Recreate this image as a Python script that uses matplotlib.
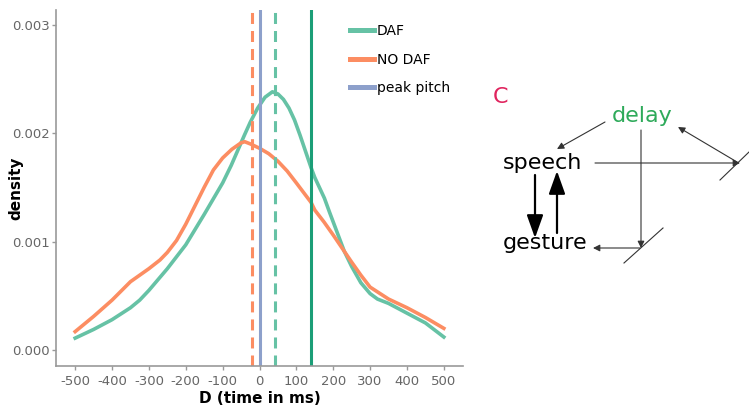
import numpy as np
import matplotlib
matplotlib.use("Agg")
import matplotlib.pyplot as plt
from matplotlib.patches import FancyArrowPatch

plt.rcParams['axes.unicode_minus'] = False
plt.rcParams['font.family'] = ['DejaVu Sans']

# density curves
daf_x = [-500, -450, -400, -350, -325, -300, -250, -200, -150, -100, -77, -50, -41, -25,
         -5, 15, 35, 50, 65, 80, 95, 110, 125, 140, 150, 176, 190, 200, 230, 250, 275,
         300, 320, 350, 400, 450, 500]
daf_y = [0.00011, 0.00019, 0.00028, 0.00039, 0.00046, 0.00055, 0.00075, 0.00097, 0.00125,
         0.00154, 0.00170, 0.00191, 0.00198, 0.00210, 0.00223, 0.00233, 0.00238, 0.00236,
         0.00231, 0.00223, 0.00212, 0.00198, 0.00183, 0.00168, 0.00159, 0.00140, 0.00127,
         0.00118, 0.00091, 0.00077, 0.00062, 0.00052, 0.00047, 0.00043, 0.00034, 0.00025,
         0.00012]

nodaf_x = [-500, -450, -400, -350, -300, -270, -250, -225, -200, -175, -150, -125, -100,
           -75, -50, -40, -25, 0, 25, 50, 75, 100, 140, 150, 175, 200, 230, 250, 275, 300,
           350, 400, 450, 500]
nodaf_y = [0.00017, 0.00031, 0.00046, 0.00063, 0.00075, 0.00083, 0.00090, 0.00101, 0.00116,
           0.00133, 0.00150, 0.00166, 0.00177, 0.00185, 0.00191, 0.00192, 0.00190, 0.00186,
           0.00181, 0.00174, 0.00165, 0.00154, 0.00136, 0.00129, 0.00118, 0.00106, 0.00091,
           0.00081, 0.00069, 0.00058, 0.00047, 0.00039, 0.00030, 0.00020]

nodaf_mean = -19
daf_mean = 41
peak_pitch = 0
daf_delay = 141

xticks = [-500, -400, -300, -200, -100, 0, 100, 200, 300, 400, 500]
yticks = [0.000, 0.001, 0.002, 0.003]

c_daf = "#66c2a5"
c_nodaf = "#fc8d62"
c_peak = "#8da0cb"
c_delay = "#1b9e77"

fig = plt.figure(figsize=(7.49, 4.05), dpi=100)
ax = fig.add_axes([56/749, 39/405, (463-56)/749, (366-10)/405])

ax.plot(daf_x, daf_y, color=c_daf, lw=2.6, label="DAF", solid_joinstyle='round')
ax.plot(nodaf_x, nodaf_y, color=c_nodaf, lw=2.6, label="NO DAF", solid_joinstyle='round')
ax.axvline(peak_pitch, color=c_peak, lw=2.2, label="peak pitch")
ax.axvline(nodaf_mean, color=c_nodaf, lw=2.2, dashes=(3.6, 2.3))
ax.axvline(daf_mean, color=c_daf, lw=2.2, dashes=(3.6, 2.3))
ax.axvline(daf_delay, color=c_delay, lw=2.2)

ax.set_xlim(-552, 552)
ax.set_ylim(-0.000147, 0.003134)
ax.set_xticks(xticks)
ax.set_xticklabels([str(v) for v in xticks])
ax.set_yticks(yticks)
ax.set_yticklabels(["%.3f" % v for v in yticks])
ax.tick_params(colors="#999999", labelcolor="#666666", labelsize=9.5, length=3, width=1)
ax.tick_params(axis="y", pad=1.5)
for s in ["top", "right"]:
    ax.spines[s].set_visible(False)
for s in ["left", "bottom"]:
    ax.spines[s].set_color("#999999")
    ax.spines[s].set_linewidth(1.2)
ax.set_xlabel("D (time in ms)", fontsize=11, fontweight="bold", labelpad=2)
ax.set_ylabel("density", fontsize=11, fontweight="bold")
ax.yaxis.set_label_coords(-0.081, 0.5)

leg = ax.legend(loc="upper left", bbox_to_anchor=(350/749, 1 - 24/405),
                bbox_transform=fig.transFigure, frameon=False, fontsize=10,
                handlelength=1.7, handletextpad=0.25, labelspacing=1.05,
                borderpad=0, borderaxespad=0)
for line in leg.get_lines():
    line.set_linewidth(3.6)

# panel C diagram
d = fig.add_axes([480/749, 0, 269/749, 1])
d.set_xlim(480, 749)
d.set_ylim(405, 0)
d.axis("off")
d.patch.set_alpha(0)

d.text(501, 97, "C", color="#e0245e", fontsize=16, ha="center", va="center")
d.text(642, 116, "delay", color="#2eaa5a", fontsize=16, ha="center", va="center")
d.text(503, 163, "speech", color="black", fontsize=16, ha="left", va="center")
d.text(503, 243, "gesture", color="black", fontsize=16, ha="left", va="center")

thin = dict(arrowstyle="-|>,head_length=4,head_width=2", color="#333333", lw=0.8,
            shrinkA=0, shrinkB=0)
for p0, p1 in [((605, 122), (557, 149)), ((595, 163), (740, 163)),
               ((641, 130), (641, 248)), ((640, 248), (593, 248)),
               ((737, 162), (678, 127))]:
    d.add_patch(FancyArrowPatch(p0, p1, **thin))
d.plot([720, 749], [180, 152], color="#333333", lw=0.8)
d.plot([624, 663], [263, 228], color="#333333", lw=0.8)

bold = dict(arrowstyle="-|>,head_length=14,head_width=5", color="black", lw=1.6,
            shrinkA=0, shrinkB=0)
d.add_patch(FancyArrowPatch((535, 175), (535, 238), **bold))
d.add_patch(FancyArrowPatch((557, 233), (557, 171), **bold))

fig.savefig("out.png", dpi=100)
